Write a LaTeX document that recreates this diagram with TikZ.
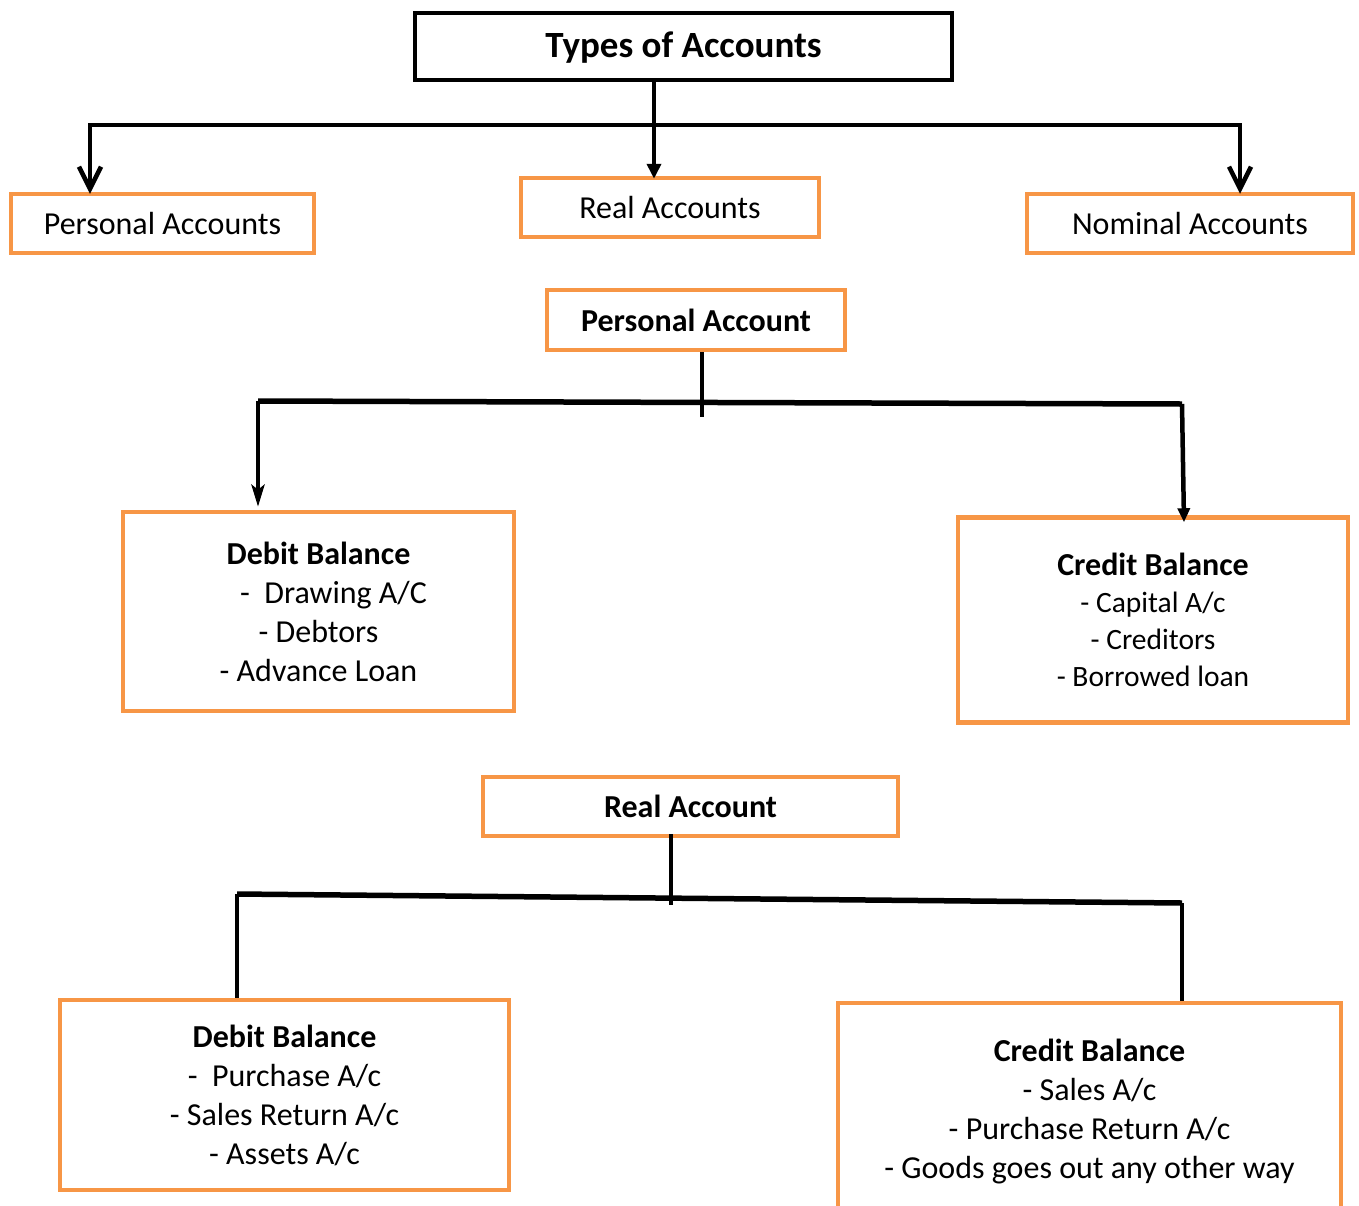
\documentclass[tikz,border=0pt]{standalone}
\usepackage{fontspec}
\setmainfont{Carlito}
\usetikzlibrary{arrows.meta,calc}
\definecolor{acc}{HTML}{F79646}
\begin{document}
\begin{tikzpicture}[x=1pt,y=-1pt,
  obox/.style={draw=acc, line width=4.5pt, inner sep=0pt, align=center, font=\fontsize{32pt}{39pt}\selectfont},
  hbox/.style={obox, font=\fontsize{32pt}{39pt}\selectfont\bfseries},
  bbox/.style={draw=black, line width=4.5pt, inner sep=0pt, font=\fontsize{37pt}{44pt}\selectfont\bfseries},
  conn/.style={draw=black, line width=4.5pt},
  bar/.style={draw=black, line width=5.5pt},
  barbs/.style={{Straight Barb[length=22pt,width=22pt]}-{Straight Barb[length=22pt,width=22pt]}},
  tri/.style={-{Triangle[length=15pt,width=14pt]}},
]
\useasboundingbox (0,0) rectangle (1359,1205);
\clip (0,0) rectangle (1359,1205);

% --- top level ---
\node[bbox, minimum width=537pt, minimum height=67pt, text depth=4pt] (types) at (683.5,46.5) {Types of Accounts};
\node[obox, minimum width=303pt, minimum height=59pt] (pa) at (162.5,223.5) {\raisebox{-3pt}{Personal Accounts}};
\node[obox, minimum width=298pt, minimum height=59pt] (ra) at (670,207.5) {\raisebox{-2pt}{Real Accounts}};
\node[obox, minimum width=326pt, minimum height=59pt] (na) at (1190,223.5) {\raisebox{-3pt}{Nominal Accounts}};

\coordinate (t0) at (654,125);
\coordinate (h1l) at (90,125);
\coordinate (h1r) at (1240,125);
\draw[conn, barbs] ($(pa.north -| h1l)+(0,2)$) -- (h1l) -- (h1r) -- ($(na.north -| h1r)+(0,2)$);
\draw[conn, tri] (types.south -| t0) -- ($(ra.north -| t0)+(0,3)$);

% --- personal account ---
\node[hbox, minimum width=298pt, minimum height=60pt] (pacc) at (696,320) {Personal Account};
\node[obox, minimum width=391pt, minimum height=199pt] (deb1) at (318.5,611.5)
  {\textbf{Debit Balance}\\\hspace*{30pt}-\ \ Drawing A/C\\- Debtors\\- Advance Loan};
\node[obox, minimum width=390pt, minimum height=205pt, font=\fontsize{29.5pt}{37pt}\selectfont] (cred1) at (1153,620)
  {{\fontsize{32pt}{37pt}\selectfont\textbf{Credit Balance}}\\- Capital A/c\\- Creditors\\- Borrowed loan};

\coordinate (p0) at (702,417);
\coordinate (p1l) at (258,401);
\coordinate (p1r) at (1182,404);
\draw[conn] (pacc.south -| p0) -- (p0);
\draw[bar] (p1l) -- (p1r);
\draw[conn, -{Stealth[length=22pt,width=13pt,inset=5pt]}] (p1l) -- ($(deb1.north -| p1l)+(0,-3)$);
\draw[conn, -{Triangle[length=14pt,width=12pt]}] (p1r) -- ($(cred1.north -| p1r)+(2,7)$);

% --- real account ---
\node[hbox, minimum width=415pt, minimum height=59pt] (racc) at (690.5,806.5) {Real Account};
\node[obox, minimum width=449pt, minimum height=190pt] (deb2) at (284.5,1095)
  {\textbf{Debit Balance}\\-\ \ Purchase A/c\\- Sales Return A/c\\- Assets A/c};
\node[obox, minimum width=503pt, minimum height=218pt] (cred2) at (1089.5,1112)
  {\textbf{Credit Balance}\\- Sales A/c\\- Purchase Return A/c\\- Goods goes out any other way};

\coordinate (r0) at (671,905);
\coordinate (r1l) at (237,894);
\coordinate (r1r) at (1182,903);
\draw[conn] ($(racc.south -| r0)+(0,-4)$) -- (r0);
\draw[bar] (r1l) -- (r1r);
\draw[conn] (r1l) -- (deb2.north -| r1l);
\draw[conn] (r1r) -- (cred2.north -| r1r);
\end{tikzpicture}
\end{document}
